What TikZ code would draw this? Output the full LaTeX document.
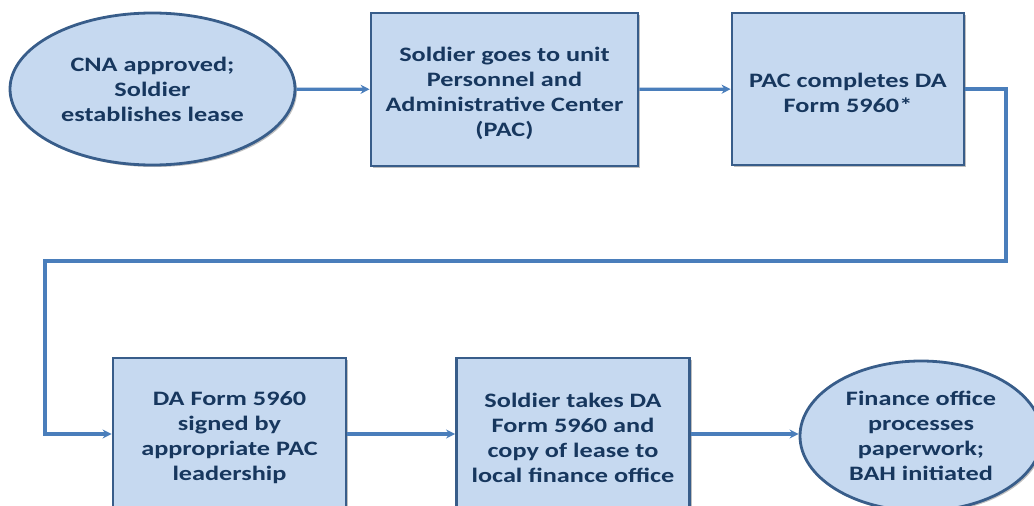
\documentclass[tikz,border=0pt]{standalone}
\usepackage{fontspec}
\setmainfont[FakeStretch=1.28]{Carlito}
\usetikzlibrary{shapes.geometric,arrows.meta,shadows}
\definecolor{boxfill}{RGB}{198,217,240}
\definecolor{boxline}{RGB}{56,93,138}
\definecolor{linkblue}{RGB}{74,126,187}
\definecolor{textnavy}{RGB}{23,55,94}
% tall strut on the first line drops the text block a little inside its box
\newcommand\topstrut{\rule{0pt}{22pt}}
\tikzset{
  base/.style={draw=boxline, line width=2.8pt, fill=boxfill, text=textnavy,
    font=\bfseries\fontsize{20.5}{25}\selectfont, align=center, inner sep=0pt,
    drop shadow={shadow xshift=2pt, shadow yshift=-2pt, opacity=0.25, fill=black}},
  stepbox/.style={base, rectangle},
  endpoint/.style={base, ellipse},
  link/.style={draw=linkblue, line width=3.2pt, -{Stealth[length=9pt,width=9pt]}}
}
\begin{document}
\begin{tikzpicture}[x=1pt,y=-1pt]
\useasboundingbox (0,0) rectangle (1034,506);
\node[endpoint, minimum width=285pt, minimum height=152pt] (start) at (152.5,89)
  {CNA approved;\\Soldier\\establishes lease};
\node[stepbox, minimum width=267pt, minimum height=153pt] (pac) at (504.5,89.5)
  {\topstrut Soldier goes to unit\\Personnel and\\Administrative Center\\(PAC)};
\node[stepbox, minimum width=232pt, minimum height=152pt] (form) at (848,89)
  {\topstrut PAC completes DA\\Form 5960*};
\node[stepbox, minimum width=233pt, minimum height=152pt] (sign) at (229.5,434)
  {\topstrut DA Form 5960\\signed by\\appropriate PAC\\leadership};
\node[stepbox, minimum width=233pt, minimum height=152pt] (take) at (573,434)
  {\topstrut Soldier takes DA\\Form 5960 and\\copy of lease to\\local finance office};
\node[endpoint, minimum width=242pt, minimum height=150pt] (fin) at (921,436)
  {Finance office\\processes\\paperwork;\\BAH initiated};
\coordinate (turnR) at (1006,261);
\coordinate (turnL) at (45,261);
\draw[link] (start) -- (pac);
\draw[link] (pac) -- (form);
\draw[link] (form.east) -| (turnR) -- (turnL) |- (sign.west);
\draw[link] (sign) -- (take);
\draw[link] (take.east) -- (take.east -| fin.west);
\end{tikzpicture}
\end{document}
